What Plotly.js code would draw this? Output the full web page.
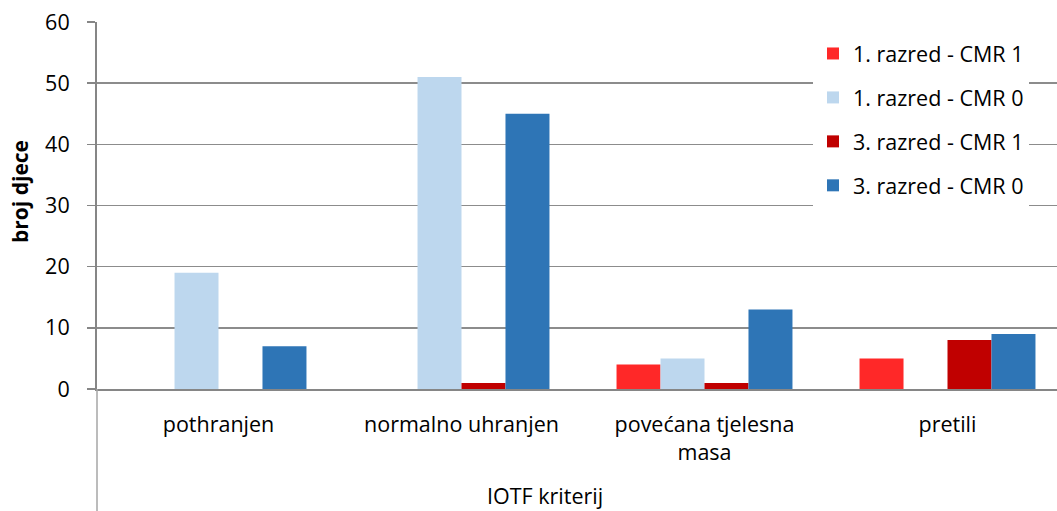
<!DOCTYPE html>
<html><head><meta charset="utf-8">
<script src="https://cdn.plot.ly/plotly-3.0.1.min.js"></script>
<style>html,body{margin:0;padding:0;overflow:hidden;background:#fff;width:1057px;height:511px}</style>
</head><body><div id="chart"></div>
<script>
const categories = ["pothranjen", "normalno uhranjen", "povećana tjelesna<br>masa", "pretili"];
const seriesNames = ["1. razred - CMR 1", "1. razred - CMR 0", "3. razred - CMR 1", "3. razred - CMR 0"];
const raz1_cmr1 = [0, 0, 4, 5];
const raz1_cmr0 = [19, 51, 5, 0];
const raz3_cmr1 = [0, 1, 1, 8];
const raz3_cmr0 = [7, 45, 13, 9];
const colors = ["#FF2828", "#BDD7EE", "#C00000", "#2E75B6"];
const values = [raz1_cmr1, raz1_cmr0, raz3_cmr1, raz3_cmr0];
const xTitle = "IOTF kriterij";
const yTitle = "broj djece";

const font = "Open Sans, Noto Sans, sans-serif";
const FS = 21.5;
const traces = values.map((v, i) => ({
  type: "bar", x: categories, y: v, name: seriesNames[i],
  legendgroup: "g" + i,
  marker: {color: colors[i], line: {width: 0}},
  hoverinfo: "skip"
}));

const W = 972, H = 367;
const layout = {
  width: 1069, height: 511,
  margin: {l: 97, r: 0, t: 22, b: 122},
  paper_bgcolor: "#fff", plot_bgcolor: "#fff",
  barmode: "group", bargap: 0.276, bargroupgap: 0,
  font: {family: font, size: FS, color: "#000"},
  xaxis: {
    showline: true, linecolor: "#868686", linewidth: 2,
    ticks: "", tickfont: {size: FS}, ticklabelstandoff: 15,
    fixedrange: true
  },
  yaxis: {
    range: [0, 60], dtick: 10, showgrid: true, gridcolor: "#8c8c8c", gridwidth: 1.5,
    showline: true, linecolor: "#868686", linewidth: 2,
    ticks: "outside", ticklen: 8, tickcolor: "#868686", tickwidth: 1.5,
    tickfont: {size: FS}, ticklabelstandoff: 13,
    zeroline: false,
    fixedrange: true
  },
  legend: {
    x: (813 - 97) / W, xanchor: "left", y: 1 - 11 / H, yanchor: "top",
    bgcolor: "#fff", borderwidth: 0,
    font: {size: FS}, traceorder: "grouped", tracegroupgap: 13,
    itemclick: false
  },
  annotations: [
    {text: xTitle, xref: "paper", yref: "paper", x: (545 - 97) / W, y: -(495 - 389) / H,
     xanchor: "center", yanchor: "middle", showarrow: false, font: {size: FS}},
    {text: "<b>" + yTitle + "</b>", xref: "paper", yref: "paper", x: (20 - 97) / W, y: (389 - 192) / H,
     xanchor: "center", yanchor: "middle", showarrow: false, textangle: -90, font: {size: 21}}
  ],
  shapes: [{type: "line", xref: "paper", yref: "paper", x0: 0, x1: 0, y0: 0, y1: -122 / H,
    line: {color: "#A6A6A6", width: 1.5}}],
  showlegend: true
};
Plotly.newPlot("chart", traces, layout, {displayModeBar: false, staticPlot: true});
</script></body></html>
